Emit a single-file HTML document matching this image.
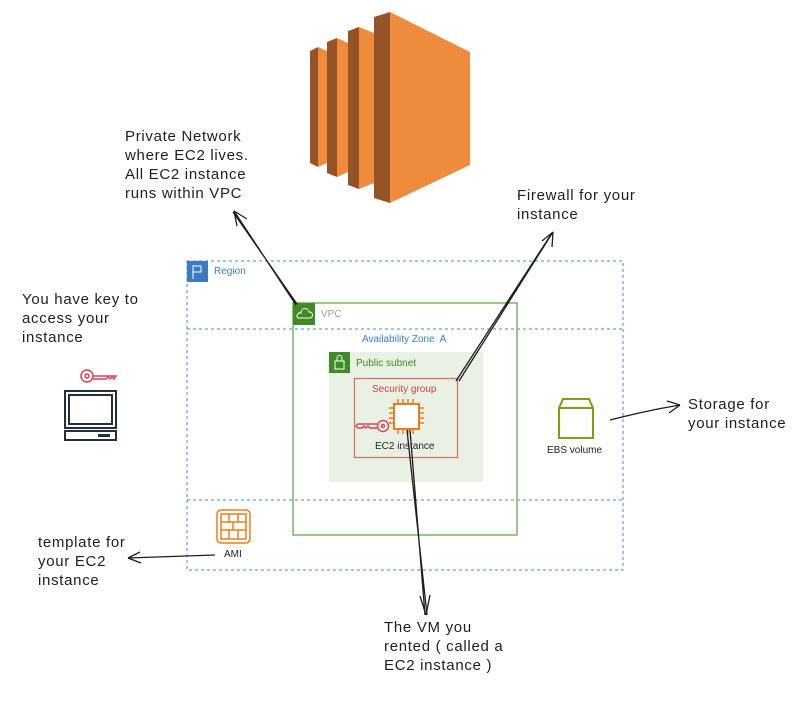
<!DOCTYPE html>
<html><head><meta charset="utf-8"><style>
body{margin:0;background:#fff;width:800px;height:703px;overflow:hidden;position:relative;font-family:"Liberation Sans",sans-serif}
.h{position:absolute;font-family:"Liberation Sans",sans-serif;font-size:15px;line-height:19px;color:#1e1e1e;white-space:nowrap;letter-spacing:0.7px}
.s{position:absolute;font-size:10px;white-space:nowrap}
</style></head><body>
<svg width="800" height="703" style="position:absolute;left:0;top:0">
<polygon points="310,51 318,47 318,167 310,163" fill="#945428"/>
<polygon points="318,47 327,51 327,163 318,167" fill="#ef8b3c"/>
<polygon points="327,42 337,38 337,177 327,173" fill="#945428"/>
<polygon points="337,38 348,43 348,172 337,177" fill="#ef8b3c"/>
<polygon points="348,31 359,27 359,189 348,185" fill="#945428"/>
<polygon points="359,27 374,33 374,183 359,189" fill="#ef8b3c"/>
<polygon points="374,17 390,12 390,203 374,198" fill="#945428"/>
<polygon points="390,12 470,52 470,165 390,203" fill="#ef8b3c"/>
<rect x="187" y="261" width="436" height="309" fill="none" stroke="#3b8bd0" stroke-dasharray="3,3"/>
<line x1="187" y1="329" x2="623" y2="329" stroke="#3b8bd0" stroke-dasharray="3,3"/>
<line x1="187" y1="500" x2="623" y2="500" stroke="#3b8bd0" stroke-dasharray="3,3"/>
<rect x="187" y="261" width="21" height="21" fill="#3b7cc0"/>
<path d="M193 265v14M193 266h8v6h-8" stroke="#fff" fill="none"/>
<rect x="293" y="303" width="224" height="232" fill="none" stroke="#7ab55c" stroke-width="1.5"/>
<rect x="293" y="303" width="22" height="22" fill="#3f8c24"/>
<path d="M298 318h12a3 3 0 0 0-1-6a4 4 0 0 0-8 1a3 3 0 0 0-3 5z" stroke="#fff" fill="none"/>
<rect x="329" y="352" width="154" height="130" fill="#e9f1e5"/>
<rect x="329" y="352" width="21" height="21" fill="#3f8c24"/>
<rect x="335" y="361" width="9" height="8" stroke="#fff" fill="none"/><path d="M337 361v-3a2.5 2.5 0 0 1 5 0v3" stroke="#fff" fill="none"/>
<rect x="354.5" y="378.5" width="103" height="79" fill="none" stroke="#e06a5c" stroke-width="1.2"/>
<rect x="394" y="404" width="25" height="25" fill="#fff" stroke="#ed7d1c" stroke-width="2"/>
<g stroke="#ed7d1c" stroke-width="1.5">
<path d="M398 404v-5M403 404v-5M408 404v-5M413 404v-5M398 429v5M403 429v5M408 429v5M413 429v5M394 408h-5M394 413h-5M394 418h-5M394 423h-5M419 408h5M419 413h5M419 418h5M419 423h5"/></g>
<g stroke="#d8445a" stroke-width="1.5" fill="none">
<circle cx="383" cy="426" r="5.5"/><circle cx="383" cy="426" r="1.5"/>
<path d="M377 424h-19l-2 2l2 2h4l2-2l2 2l2-2l2 2h7"/></g>
<g stroke="#7aa116" stroke-width="2" fill="none"><rect x="559" y="408" width="34" height="30"/><path d="M559 408l4-9h26l4 9"/></g>
<g stroke="#ed7d1c" stroke-width="1.5" fill="none"><rect x="217" y="510" width="33" height="33" rx="4"/><rect x="221" y="514" width="25" height="25"/><path d="M221 522h25M221 530h25M229 514v8M238 514v8M229 530v9M238 530v9M233 522v8"/></g>
<g stroke="#232f3e" stroke-width="2" fill="none"><rect x="65" y="391" width="51" height="37"/><rect x="69" y="395" width="43" height="29"/><rect x="65" y="431" width="51" height="9"/></g>
<rect x="98" y="434" width="12" height="3" fill="#232f3e"/>
<g stroke="#d8445a" stroke-width="1.5" fill="none"><circle cx="87" cy="376" r="6"/><circle cx="87" cy="376" r="2"/><path d="M93 376h23l-2 3l-2-2l-2 2l-2-2l-2 2h-13"/></g>
<g stroke="#1e1e1e" stroke-width="1.3" fill="none">
<path d="M296 305L234 211M297 304L233 212"/><path d="M234 211l3 15M234 211l13 8"/>
<path d="M456 381L552 233M459 381L553 232"/><path d="M553 232l-11 9M553 232l-1 15"/>
<path d="M407 430L427 615M410 430L425 615"/><path d="M426 615l-6-19M426 615l4-20"/>
<path d="M610 420C630 415 650 410 680 405"/><path d="M680 405l-13-4M680 405l-11 8"/>
<path d="M215 555C180 556 150 557 128 558"/><path d="M128 558l12-6M128 558l13 5"/>
</g>
</svg>
<div class="s" style="left:214px;top:266px;color:#3b7cc0">Region</div>
<div class="s" style="left:321px;top:309px;color:#a0a0a0">VPC</div>
<div class="s" style="left:362px;top:334px;color:#3b7cc0">Availability Zone&nbsp; A</div>
<div class="s" style="left:356px;top:358px;color:#3f8c24">Public subnet</div>
<div class="s" style="left:372px;top:384px;color:#d8453a">Security group</div>
<div class="s" style="left:375px;top:441px;color:#222">EC2 instance</div>
<div class="s" style="left:547px;top:445px;color:#222">EBS volume</div>
<div class="s" style="left:224px;top:549px;color:#222">AMI</div>
<div class="h" style="left:125px;top:127px">Private Network<br>where EC2 lives.<br>All EC2 instance<br>runs within VPC</div>
<div class="h" style="left:517px;top:186px">Firewall for your<br>instance</div>
<div class="h" style="left:22px;top:290px">You have key to<br>access your<br>instance</div>
<div class="h" style="left:688px;top:395px">Storage for<br>your instance</div>
<div class="h" style="left:38px;top:533px">template for<br>your EC2<br>instance</div>
<div class="h" style="left:384px;top:618px">The VM you<br>rented ( called a<br>EC2 instance )</div>
</body></html>
